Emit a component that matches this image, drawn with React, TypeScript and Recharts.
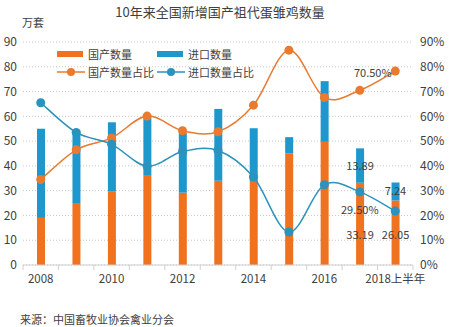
import React from 'react';
import {
  ComposedChart,
  Bar,
  Line,
  XAxis,
  YAxis,
  CartesianGrid,
  LabelList,
} from 'recharts';

const years = ['2008', '2009', '2010', '2011', '2012', '2013', '2014', '2015', '2016', '2017', '2018上半年'];
const domestic = [19, 25, 29.6, 36, 29.2, 34, 33.9, 45, 49.7, 33.19, 26.05];
const imported = [36, 29.2, 28, 23.8, 24.2, 29, 21.3, 6.6, 24.5, 13.89, 7.24];
const domesticShare = [34.5, 46.5, 51.3, 60.1, 54.2, 53.8, 64.5, 86.7, 67.6, 70.5, 78.25];
const importShare = [65.5, 53.5, 48.7, 39.9, 45.8, 46.2, 35.5, 13.3, 32.4, 29.5, 21.75];
// only these points carry a printed label in the source
const labelled = [9, 10];
const shareLabelled = [9];
const leftTicks = [0, 10, 20, 30, 40, 50, 60, 70, 80, 90];

const ORANGE = '#F0711E';
const BLUE = '#1E98CC';
const ORANGE_LINE = '#E97A2E';
const BLUE_LINE = '#2A93BD';
const FONT = '"Noto Sans CJK SC", "Noto Sans", sans-serif';

const data = years.map((year, i) => ({
  year,
  domestic: domestic[i],
  imported: imported[i],
  domesticShare: domesticShare[i],
  importShare: importShare[i],
}));

const PLOT_LEFT = 23;
const PLOT_RIGHT = 413;
const BAND = (PLOT_RIGHT - PLOT_LEFT) / years.length;

// Excel-like smoothed line (Catmull-Rom)
function smooth(context: any) {
  let pts: [number, number][] = [];
  return {
    areaStart() {},
    areaEnd() {},
    lineStart() {
      pts = [];
    },
    point(x: number, y: number) {
      pts.push([+x, +y]);
    },
    lineEnd() {
      if (!pts.length) return;
      context.moveTo(pts[0][0], pts[0][1]);
      for (let i = 0; i < pts.length - 1; i++) {
        const p0 = pts[i - 1] || pts[i];
        const p1 = pts[i];
        const p2 = pts[i + 1];
        const p3 = pts[i + 2] || p2;
        context.bezierCurveTo(
          p1[0] + (p2[0] - p0[0]) / 6,
          p1[1] + (p2[1] - p0[1]) / 6,
          p2[0] - (p3[0] - p1[0]) / 6,
          p2[1] - (p3[1] - p1[1]) / 6,
          p2[0],
          p2[1],
        );
      }
    },
  };
}

const XTick = (props: any) => {
  const { x, y, payload, index } = props;
  const last = index === years.length - 1;
  return (
    <g>
      <line x1={x - BAND / 2} x2={x - BAND / 2} y1={y} y2={y + 5} stroke="#d0d0d0" />
      {last && <line x1={x + BAND / 2} x2={x + BAND / 2} y1={y} y2={y + 5} stroke="#d0d0d0" />}
      {index % 2 === 0 && (
        <text x={x} y={y + 18} textAnchor="middle" fill="#404040" fontSize={11.5} fontFamily={FONT}>
          {payload.value}
        </text>
      )}
    </g>
  );
};

// fromBase: place text this many px above the bar's base, else centre of segment
const barLabel = (fromBase?: number) => (props: any) => {
  const { x, y, width, height, value, index } = props;
  if (!labelled.includes(index)) return null;
  const cy = fromBase ? y + height - fromBase : y + height / 2;
  return (
    <text
      x={x + width / 2}
      y={cy}
      dy={4}
      textAnchor="middle"
      fill="#404040"
      fontSize={11}
      fontFamily={FONT}
    >
      {value}
    </text>
  );
};

const shareLabel = (offsetX: number, offsetY: number) => (props: any) => {
  const { x, y, value, index } = props;
  if (!shareLabelled.includes(index)) return null;
  return (
    <text
      x={x + offsetX}
      y={y + offsetY}
      textAnchor="middle"
      fill="#404040"
      fontSize={11}
      fontFamily={FONT}
    >
      {value.toFixed(2)}%
    </text>
  );
};

const LegendBox = () => {
  const item = (icon: React.ReactNode, label: string) => (
    <div style={{ display: 'flex', alignItems: 'center', width: 100, height: 18 }}>
      <svg width={30} height={12} style={{ marginRight: 1 }}>
        {icon}
      </svg>
      <span>{label}</span>
    </div>
  );
  return (
    <div
      style={{
        position: 'absolute',
        top: 45,
        left: 57,
        display: 'flex',
        flexWrap: 'wrap',
        width: 200,
        fontSize: 11,
        color: '#404040',
        fontFamily: FONT,
        lineHeight: '18px',
      }}
    >
      {item(<rect x={0} y={3} width={26} height={6} fill={ORANGE} />, '国产数量')}
      {item(<rect x={0} y={3} width={26} height={6} fill={BLUE} />, '进口数量')}
      {item(
        <g>
          <line x1={0} x2={28} y1={6} y2={6} stroke={ORANGE_LINE} strokeWidth={1.5} />
          <circle cx={14} cy={6} r={4} fill={ORANGE_LINE} />
        </g>,
        '国产数量占比',
      )}
      {item(
        <g>
          <line x1={0} x2={28} y1={6} y2={6} stroke={BLUE_LINE} strokeWidth={1.5} />
          <circle cx={14} cy={6} r={4} fill={BLUE_LINE} />
        </g>,
        '进口数量占比',
      )}
    </div>
  );
};

export default function App() {
  return (
    <div
      style={{
        position: 'absolute',
        left: 0,
        top: 0,
        width: 460,
        height: 327,
        background: '#fff',
        fontFamily: FONT,
      }}
    >
      <div
        style={{
          position: 'absolute',
          top: 2,
          left: 0,
          width: 440,
          textAlign: 'center',
          fontSize: 13,
          color: '#404040',
        }}
      >
        10年来全国新增国产祖代蛋雏鸡数量
      </div>
      <div style={{ position: 'absolute', top: 14, left: 22, fontSize: 11, color: '#404040' }}>万套</div>
      <ComposedChart
        width={460}
        height={327}
        data={data}
        margin={{ top: 42, right: 0, bottom: 32, left: 0 }}
      >
        <CartesianGrid vertical={false} yAxisId="left" stroke="#c8c8c8" strokeDasharray="1 2" />
        <XAxis
          dataKey="year"
          interval={0}
          height={30}
          axisLine={{ stroke: '#d0d0d0' }}
          tickLine={false}
          tickSize={0}
          tickMargin={0}
          tick={<XTick />}
        />
        <YAxis
          yAxisId="left"
          width={23}
          domain={[0, 90]}
          ticks={leftTicks}
          axisLine={false}
          tickLine={false}
          tickSize={4}
          tickMargin={2}
          tick={{ fill: '#404040', fontSize: 12, fontFamily: FONT }}
        />
        <YAxis
          yAxisId="right"
          orientation="right"
          width={47}
          domain={[0, 90]}
          ticks={leftTicks}
          tickFormatter={(v) => `${v}%`}
          axisLine={false}
          tickLine={false}
          tickSize={5}
          tickMargin={2}
          tick={{ fill: '#404040', fontSize: 12, fontFamily: FONT, textAnchor: 'start' }}
        />
        <Bar yAxisId="left" dataKey="domestic" name="国产数量" stackId="a" fill={ORANGE} barSize={8} isAnimationActive={false}>
          <LabelList dataKey="domestic" content={barLabel(30)} />
        </Bar>
        <Bar yAxisId="left" dataKey="imported" name="进口数量" stackId="a" fill={BLUE} barSize={8} isAnimationActive={false}>
          <LabelList dataKey="imported" content={barLabel()} />
        </Bar>
        <Line
          yAxisId="right"
          dataKey="domesticShare"
          name="国产数量占比"
          type={smooth as any}
          stroke={ORANGE_LINE}
          strokeWidth={1.5}
          dot={{ r: 4.5, fill: ORANGE_LINE, stroke: ORANGE_LINE, strokeWidth: 0 }}
          isAnimationActive={false}
        >
          <LabelList dataKey="domesticShare" content={shareLabel(13, -13)} />
        </Line>
        <Line
          yAxisId="right"
          dataKey="importShare"
          name="进口数量占比"
          type={smooth as any}
          stroke={BLUE_LINE}
          strokeWidth={1.5}
          dot={{ r: 4.5, fill: BLUE_LINE, stroke: BLUE_LINE, strokeWidth: 0 }}
          isAnimationActive={false}
        >
          <LabelList dataKey="importShare" content={shareLabel(0, 22)} />
        </Line>
      </ComposedChart>
      <LegendBox />
      <div style={{ position: 'absolute', top: 311, left: 20, fontSize: 11, color: '#404040' }}>
        来源：中国畜牧业协会禽业分会
      </div>
    </div>
  );
}
